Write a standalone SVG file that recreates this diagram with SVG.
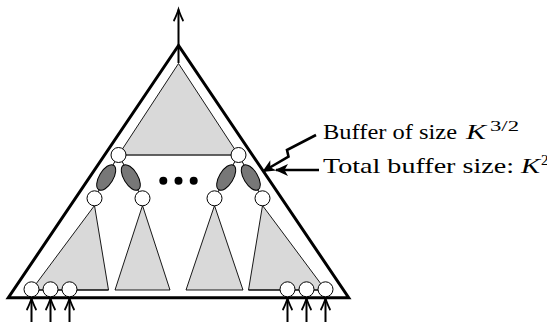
<svg xmlns="http://www.w3.org/2000/svg" width="547" height="322" viewBox="0 0 547 322">
  <style>
    .outer { fill: none; stroke: #000; stroke-width: 3; stroke-linejoin: miter; }
    .sub { fill: #d9d9d9; stroke: #000; stroke-width: 0.9; stroke-linejoin: round; }
    .base { stroke: #555; stroke-width: 1.4; fill: none; }
    .node { fill: #fff; stroke: #000; stroke-width: 1; }
    .buf { fill: #777; stroke: #000; stroke-width: 1; }
    .edge { stroke: #000; stroke-width: 1; fill: none; }
    .io { stroke: #000; stroke-width: 2; fill: none; }
    .note { stroke: #000; stroke-width: 2.6; fill: none; stroke-linejoin: miter; }
    .lbl { font-family: "Liberation Serif", "DejaVu Serif", serif; font-size: 21px; fill: #000; }
    .it { font-style: italic; font-size: 22px; }
    .sup { font-size: 15px; }
  </style>
  <defs>
    <marker id="vee" markerUnits="userSpaceOnUse" markerWidth="16" markerHeight="12" viewBox="-13 -6 16 12" refX="0" refY="0" orient="auto" overflow="visible">
      <path d="M-11,-4.5 Q-4,-1.2 0,0 Q-4,1.2 -11,4.5" fill="none" stroke="#000" stroke-width="1.8" stroke-linecap="round"/>
    </marker>
    <marker id="stealth" markerUnits="userSpaceOnUse" markerWidth="16" markerHeight="14" viewBox="-14 -7 16 14" refX="0" refY="0" orient="auto" overflow="visible">
      <path d="M1,0 L-12,-6 L-8.5,0 L-12,6 Z" fill="#000"/>
    </marker>
  </defs>

  <!-- whole tree -->
  <g id="tree">
    <polygon class="outer" points="178.5,45.5 8.3,297.7 348.7,297.7"/>
  </g>

  <!-- top subtree -->
  <g id="top-subtree">
    <polygon class="sub" points="178.5,63.5 118.5,155 238.5,155"/>
    <line class="base" x1="118.5" y1="155" x2="238.5" y2="155"/>
  </g>

  <!-- bottom subtrees -->
  <g id="subtree-1">
    <polygon class="sub" points="94.5,205.5 108.5,290 31.5,290"/>
  </g>
  <g id="subtree-2">
    <polygon class="sub" points="142.5,205.5 170,290 115,290"/>
  </g>
  <g id="subtree-3">
    <polygon class="sub" points="214.5,205.5 243,290 186,290"/>
  </g>
  <g id="subtree-4">
    <polygon class="sub" points="262.5,205.5 325.5,290 248.5,290"/>
  </g>

  <!-- edges, input/output streams and annotation arrows -->
  <g id="connectors">
    <line class="edge" x1="118.5" y1="155" x2="94.5" y2="198.3"/>
    <line class="edge" x1="118.5" y1="155" x2="142.5" y2="198.3"/>
    <line class="edge" x1="238.5" y1="155" x2="214.5" y2="198.3"/>
    <line class="edge" x1="238.5" y1="155" x2="262.5" y2="198.3"/>
    <line class="edge" x1="31.5" y1="290" x2="108.5" y2="290"/>
    <line class="edge" x1="248.5" y1="290" x2="325.5" y2="290"/>

    <line class="io" x1="178.5" y1="63" x2="178.5" y2="9.5" marker-end="url(#vee)"/>
    <line class="io" x1="31.5" y1="322" x2="31.5" y2="298.5" marker-end="url(#vee)"/>
    <line class="io" x1="50.5" y1="322" x2="50.5" y2="298.5" marker-end="url(#vee)"/>
    <line class="io" x1="69.5" y1="322" x2="69.5" y2="298.5" marker-end="url(#vee)"/>
    <line class="io" x1="287.5" y1="322" x2="287.5" y2="298.5" marker-end="url(#vee)"/>
    <line class="io" x1="306.5" y1="322" x2="306.5" y2="298.5" marker-end="url(#vee)"/>
    <line class="io" x1="325.5" y1="322" x2="325.5" y2="298.5" marker-end="url(#vee)"/>

    <polyline class="note" points="316,135 287,150 288.5,156.5 263,171.5" marker-end="url(#stealth)"/>
    <line class="note" x1="319" y1="170" x2="276" y2="170" marker-end="url(#stealth)"/>
  </g>

  <!-- buffers -->
  <g id="buffers">
    <ellipse class="buf" cx="106.2" cy="177.5" rx="14.3" ry="7" transform="rotate(-59 106.2 177.5)"/>
    <ellipse class="buf" cx="130.8" cy="177.5" rx="14.3" ry="7" transform="rotate(59 130.8 177.5)"/>
    <ellipse class="buf" cx="226.2" cy="177.5" rx="14.3" ry="7" transform="rotate(-59 226.2 177.5)"/>
    <ellipse class="buf" cx="250.8" cy="177.5" rx="14.3" ry="7" transform="rotate(59 250.8 177.5)"/>
  </g>

  <!-- tree nodes -->
  <g id="nodes">
    <circle class="node" cx="118.5" cy="155" r="7.5"/>
    <circle class="node" cx="238.5" cy="155" r="7.5"/>
    <circle class="node" cx="94.5" cy="198.3" r="7.5"/>
    <circle class="node" cx="142.5" cy="198.3" r="7.5"/>
    <circle class="node" cx="214.5" cy="198.3" r="7.5"/>
    <circle class="node" cx="262.5" cy="198.3" r="7.5"/>
    <circle class="node" cx="31.5" cy="289.3" r="7.5"/>
    <circle class="node" cx="50.5" cy="289.3" r="7.5"/>
    <circle class="node" cx="69.5" cy="289.3" r="7.5"/>
    <circle class="node" cx="287.5" cy="289.3" r="7.5"/>
    <circle class="node" cx="306.5" cy="289.3" r="7.5"/>
    <circle class="node" cx="325.5" cy="289.3" r="7.5"/>
  </g>

  <!-- ellipsis between the middle subtrees -->
  <g id="dots" fill="#000">
    <circle cx="163.3" cy="180.7" r="4"/>
    <circle cx="178.5" cy="180.7" r="4"/>
    <circle cx="193.7" cy="180.7" r="4"/>
  </g>

  <!-- labels -->
  <g id="label-buffer">
    <text class="lbl" x="323" y="139" textLength="134" lengthAdjust="spacingAndGlyphs">Buffer of size</text>
    <text class="lbl it" x="466" y="139" textLength="20" lengthAdjust="spacingAndGlyphs">K</text>
    <text class="lbl sup" x="490" y="131" textLength="29" lengthAdjust="spacingAndGlyphs">3/2</text>
  </g>
  <g id="label-total">
    <text class="lbl" x="323" y="173" textLength="191" lengthAdjust="spacingAndGlyphs">Total buffer size:</text>
    <text class="lbl it" x="521" y="173" textLength="19" lengthAdjust="spacingAndGlyphs">K</text>
    <text class="lbl sup" x="541" y="164.5">2</text>
  </g>
</svg>
